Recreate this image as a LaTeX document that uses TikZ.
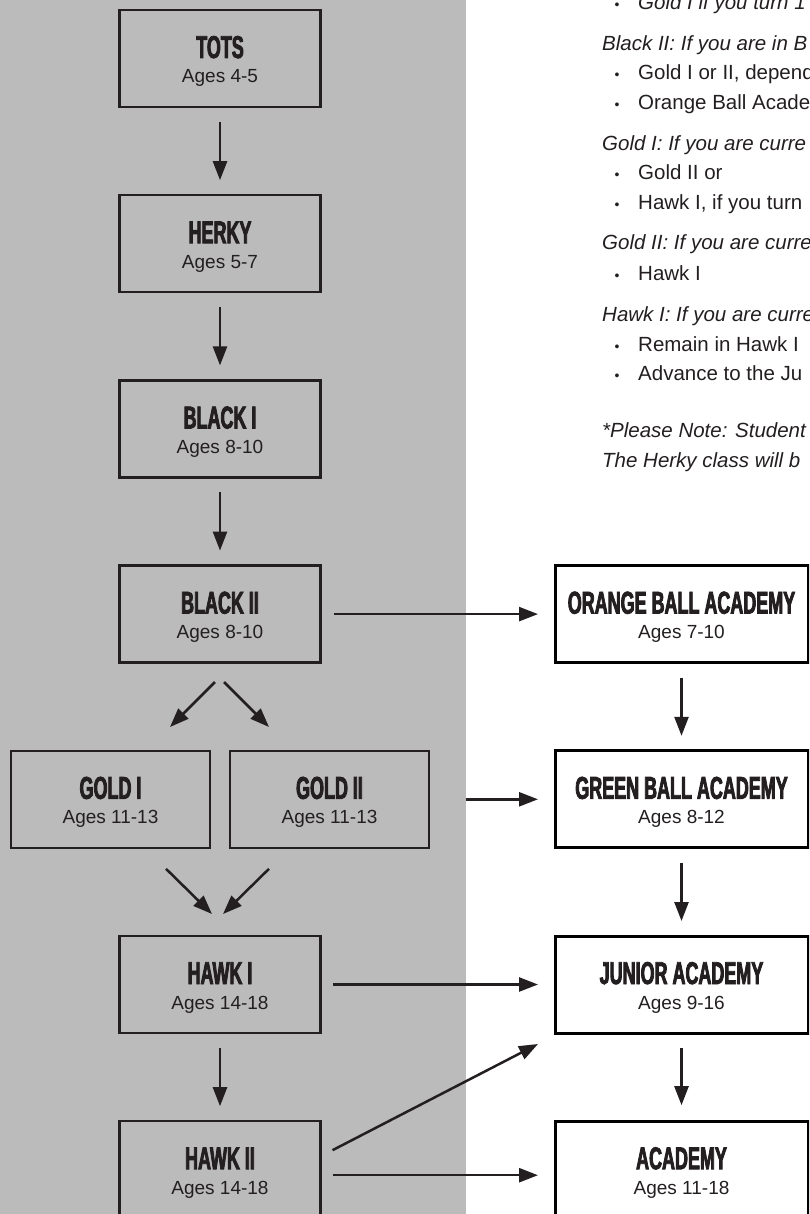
\documentclass[tikz,border=0pt]{standalone}
\usepackage{fontspec}
\setmainfont{Liberation Sans}
\newfontfamily\titlefont[FakeStretch=0.57,FakeBold=2.5]{Liberation Sans}
\usetikzlibrary{arrows.meta}
\definecolor{ink}{RGB}{35,31,32}
\definecolor{graybg}{RGB}{187,187,187}
\newcommand\mkbox[6]{%
  \node[#2] (#1) at (#3,#4) {};
  \node[ttl] (#1t) at ([yshift=-48pt]#1.north) {#5};
  \node[age] (#1a) at ([yshift=-73pt]#1.north) {#6};
}
\begin{document}
\begin{tikzpicture}[x=1pt,y=-1pt,
  gbox/.style={draw=ink, line width=2.5pt, minimum width=201pt, minimum height=97pt, inner sep=0pt, outer sep=0pt, anchor=north},
  wbox/.style={draw=black, fill=white, line width=3pt, minimum width=253pt, minimum height=97pt, inner sep=0pt, outer sep=0pt, anchor=north},
  ttl/.style={font=\titlefont\bfseries\fontsize{31.5}{31.5}\selectfont, text=ink, inner sep=0pt, anchor=base},
  age/.style={font=\fontsize{19}{19}\selectfont, text=ink, inner sep=0pt, anchor=base},
  arr/.style={draw=ink, line width=2.5pt, -{Triangle[length=19pt,width=14pt]}},
  para/.style={font=\itshape\fontsize{20.5}{20.5}\selectfont, text=ink, inner sep=0pt, anchor=base west},
  btxt/.style={font=\fontsize{20.5}{20.5}\selectfont, text=ink, inner sep=0pt, anchor=base west},
  bul/.style={font=\fontsize{14}{14}\selectfont, text=ink, inner sep=0pt, anchor=base}]
\useasboundingbox (0,0) rectangle (809,1214);
\clip (0,0) rectangle (809,1214);
\fill[graybg] (0,0) rectangle (466,1214);

% left column
\mkbox{tots}{gbox}{220}{10}{TOTS}{Ages 4-5}
\mkbox{herky}{gbox}{220}{195.2}{HERKY}{Ages 5-7}
\mkbox{blacki}{gbox}{220}{380.4}{BLACK I}{Ages 8-10}
\mkbox{blackii}{gbox}{220}{565.6}{BLACK II}{Ages 8-10}
\mkbox{goldi}{gbox,minimum width=199pt}{110.5}{750.8}{GOLD I}{Ages 11-13}
\mkbox{goldii}{gbox,minimum width=199pt}{329.5}{750.8}{GOLD II}{Ages 11-13}
\mkbox{hawki}{gbox}{220}{936}{HAWK I}{Ages 14-18}
\mkbox{hawkii}{gbox,minimum height=108pt}{220}{1121.2}{HAWK II}{Ages 14-18}

% right column
\mkbox{orange}{wbox}{681.5}{565.6}{ORANGE BALL ACADEMY}{Ages 7-10}
\mkbox{green}{wbox}{681.5}{750.8}{GREEN BALL ACADEMY}{Ages 8-12}
\mkbox{junior}{wbox}{681.5}{936}{JUNIOR ACADEMY}{Ages 9-16}
\mkbox{academy}{wbox,minimum height=108pt}{681.5}{1121.2}{ACADEMY}{Ages 11-18}

% vertical arrows
\draw[arr, shorten <=15pt, shorten >=15pt] (tots) -- (herky);
\draw[arr, shorten <=15pt, shorten >=15pt] (herky) -- (blacki);
\draw[arr, shorten <=15pt, shorten >=15pt] (blacki) -- (blackii);
\draw[arr, shorten <=15pt, shorten >=15pt] (hawki) -- (hawkii);
\draw[arr, shorten <=15pt, shorten >=15pt] (orange) -- (green);
\draw[arr, shorten <=15pt, shorten >=15pt] (green) -- (junior);
\draw[arr, shorten <=15pt, shorten >=16pt] (junior.south) -- (academy.north);

% diagonal arrows
\draw[arr] ([xshift=-5pt,yshift=-19.4pt]blackii.south) -- ([xshift=59.5pt,yshift=23.8pt]goldi.north);
\draw[arr] ([xshift=4pt,yshift=-19.4pt]blackii.south) -- ([xshift=-60.5pt,yshift=23.8pt]goldii.north);
\draw[arr] ([xshift=55.5pt,yshift=-21pt]goldi.south) -- ([xshift=-8pt,yshift=22pt]hawki.north);
\draw[arr] ([xshift=-60.5pt,yshift=-21pt]goldii.south) -- ([xshift=3pt,yshift=22pt]hawki.north);

% horizontal arrows
\draw[arr, shorten <=13pt, shorten >=17pt] (blackii.east) -- (orange.west);
\draw[arr, shorten <=37pt, shorten >=17pt] (goldii.east) -- (green.west);
\draw[arr, shorten <=12pt, shorten >=17pt] (hawki.east) -- (junior.west);
\draw[arr, shorten <=12pt, shorten >=17pt] (hawkii.east) -- (academy.west);
\draw[arr] ([xshift=12pt,yshift=25pt]hawkii.east) -- ([xshift=-17pt,yshift=-11pt]junior.south west);

% right text
\node[bul] (b1) at (617,10) {•};
\node[para] (t1) at (638,10) {Gold I if you turn 1};
\node[para] (h1) at (602,50.5) {Black II: If you are in B};
\node[bul] (b2) at (617,80) {•};
\node[btxt] (t2) at (638,80) {Gold I or II, depend};
\node[bul] (b3) at (617,109.5) {•};
\node[btxt] (t3) at (638,109.5) {Orange Ball Acade};
\node[para] (h2) at (602,150.5) {Gold I: If you are curre};
\node[bul] (b4) at (617,180) {•};
\node[btxt] (t4) at (638,180) {Gold II or};
\node[bul] (b5) at (617,209.5) {•};
\node[btxt] (t5) at (638,209.5) {Hawk I, if you turn};
\node[para] (h3) at (602,250) {Gold II: If you are curre};
\node[bul] (b6) at (617,280) {•};
\node[btxt] (t6) at (638,280) {Hawk I};
\node[para] (h4) at (602,321.5) {Hawk I: If you are curre};
\node[bul] (b7) at (617,351) {•};
\node[btxt] (t7) at (638,351) {Remain in Hawk I};
\node[bul] (b8) at (617,380.5) {•};
\node[btxt] (t8) at (638,380.5) {Advance to the Ju};
\node[para] (n1) at (602,437.5) {*Please Note: Student};
\node[para] (n2) at (602,467) {The Herky class will b};
\end{tikzpicture}
\end{document}
